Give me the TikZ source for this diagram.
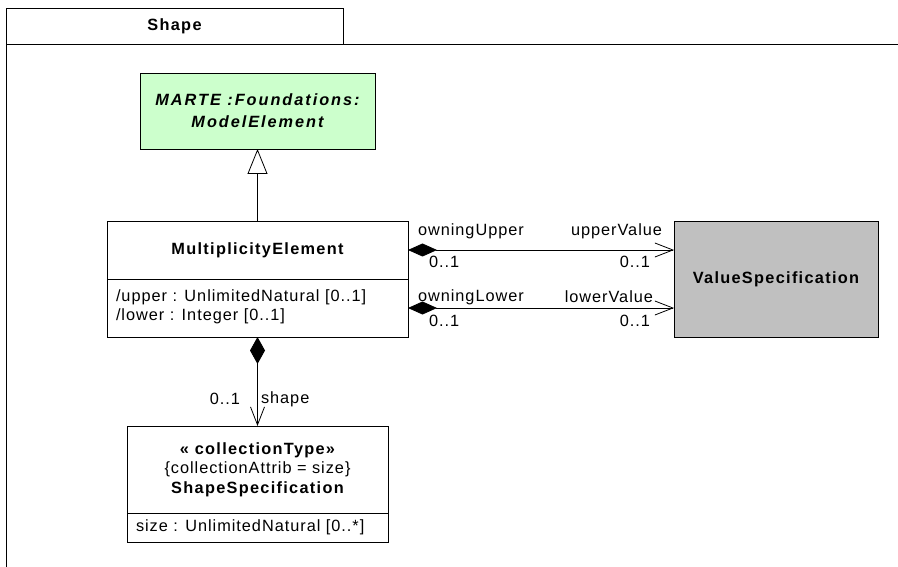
\documentclass[tikz,border=0pt]{standalone}
\usepackage{fontspec}
\setmainfont{Liberation Sans}[LetterSpace=6, BoldFeatures={LetterSpace=8}, BoldItalicFeatures={LetterSpace=12}]
\usetikzlibrary{arrows.meta}
\definecolor{megreen}{HTML}{CCFFCC}
\definecolor{vsgray}{HTML}{C0C0C0}
\begin{document}
\begin{tikzpicture}[x=1pt,y=-1pt,
  font=\fontsize{16.3}{18.5}\selectfont,
  line width=0.8pt,
  umlbox/.style={draw, line width=0.9pt, inner sep=0pt, outer sep=0pt},
  lbl/.style={inner sep=0pt, outer sep=0pt},
  compassoc/.style={{Diamond[length=29pt,width=13pt]}-{Straight Barb[length=18pt,width=14pt]}},
  gen/.style={-{Triangle[open,length=25pt,width=20pt,fill=white]}}
]
\useasboundingbox (0,0) rectangle (898,567);
% package frame
\node[umlbox, minimum width=337pt, minimum height=36pt, font=\fontsize{16.3}{18.5}\selectfont\bfseries] (tab) at (174.5,26) {Shape};
\coordinate (frameBottom) at (6,567);
\coordinate (frameRight) at (898,44);
\draw[line width=0.9pt] (frameBottom) -- (tab.south west) -- (frameRight);

% ModelElement
\node[umlbox, fill=megreen, minimum width=235pt, minimum height=76pt, align=center,
      font=\fontsize{16.3}{22}\selectfont\bfseries\itshape] (me) at (257.5,111) {MARTE :Foundations:\\{\addfontfeatures{LetterSpace=9}ModelElement}};

% MultiplicityElement
\node[umlbox, minimum width=301pt, minimum height=58pt, font=\fontsize{16.3}{18.5}\selectfont\bfseries] (multH) at (257.5,250) {MultiplicityElement};
\node[umlbox, minimum width=301pt, minimum height=58pt] (multA) at (257.5,308) {};
\node[lbl, anchor=west, align=left] (multAttr) at ([xshift=9pt,yshift=1pt]multA.west) {/upper : UnlimitedNatural [0..1]\\/lower : Integer [0..1]};

% ShapeSpecification
\node[umlbox, minimum width=261pt, minimum height=87pt, align=center, font=\fontsize{16.3}{19.5}\selectfont] (ssH) at (257.5,469.5)
  {{\bfseries « collectionType»}\\\{collectionAttrib = size\}\\{\bfseries ShapeSpecification}};
\node[umlbox, minimum width=261pt, minimum height=29pt] (ssA) at (257.5,527.5) {};
\node[lbl, anchor=west] (ssAttr) at ([xshift=9pt]ssA.west) {size : UnlimitedNatural [0..*]};

% ValueSpecification
\node[umlbox, fill=vsgray, minimum width=204pt, minimum height=116pt, font=\fontsize{16.3}{18.5}\selectfont\bfseries] (vs) at (776,279) {ValueSpecification};

% connectors
\draw[gen] (multH.north) -- (me.south);
\draw[compassoc] (multH.east) -- (multH.east -| vs.west);
\draw[compassoc] (multA.east) -- (multA.east -| vs.west);
\draw[{Diamond[length=27pt,width=15pt]}-{Straight Barb[length=18pt,width=14pt]}] (multA.south) -- (ssH.north);

% association labels
\node[lbl, anchor=west] (lOU) at (418,231) {owningUpper};
\node[lbl, anchor=east] (lUV) at (662,231) {upperValue};
\node[lbl, anchor=west] (lOUm) at (429,262) {0..1};
\node[lbl, anchor=east] (lUVm) at (650,262) {0..1};
\node[lbl, anchor=west] (lOL) at (418,297) {owningLower};
\node[lbl, anchor=east] (lLV) at (653,297) {lowerValue};
\node[lbl, anchor=west] (lOLm) at (429,321) {0..1};
\node[lbl, anchor=east] (lLVm) at (650,321) {0..1};
\node[lbl, anchor=east] (lSm) at (240,399) {0..1};
\node[lbl, anchor=west] (lS) at (261,399) {shape};
\end{tikzpicture}
\end{document}
